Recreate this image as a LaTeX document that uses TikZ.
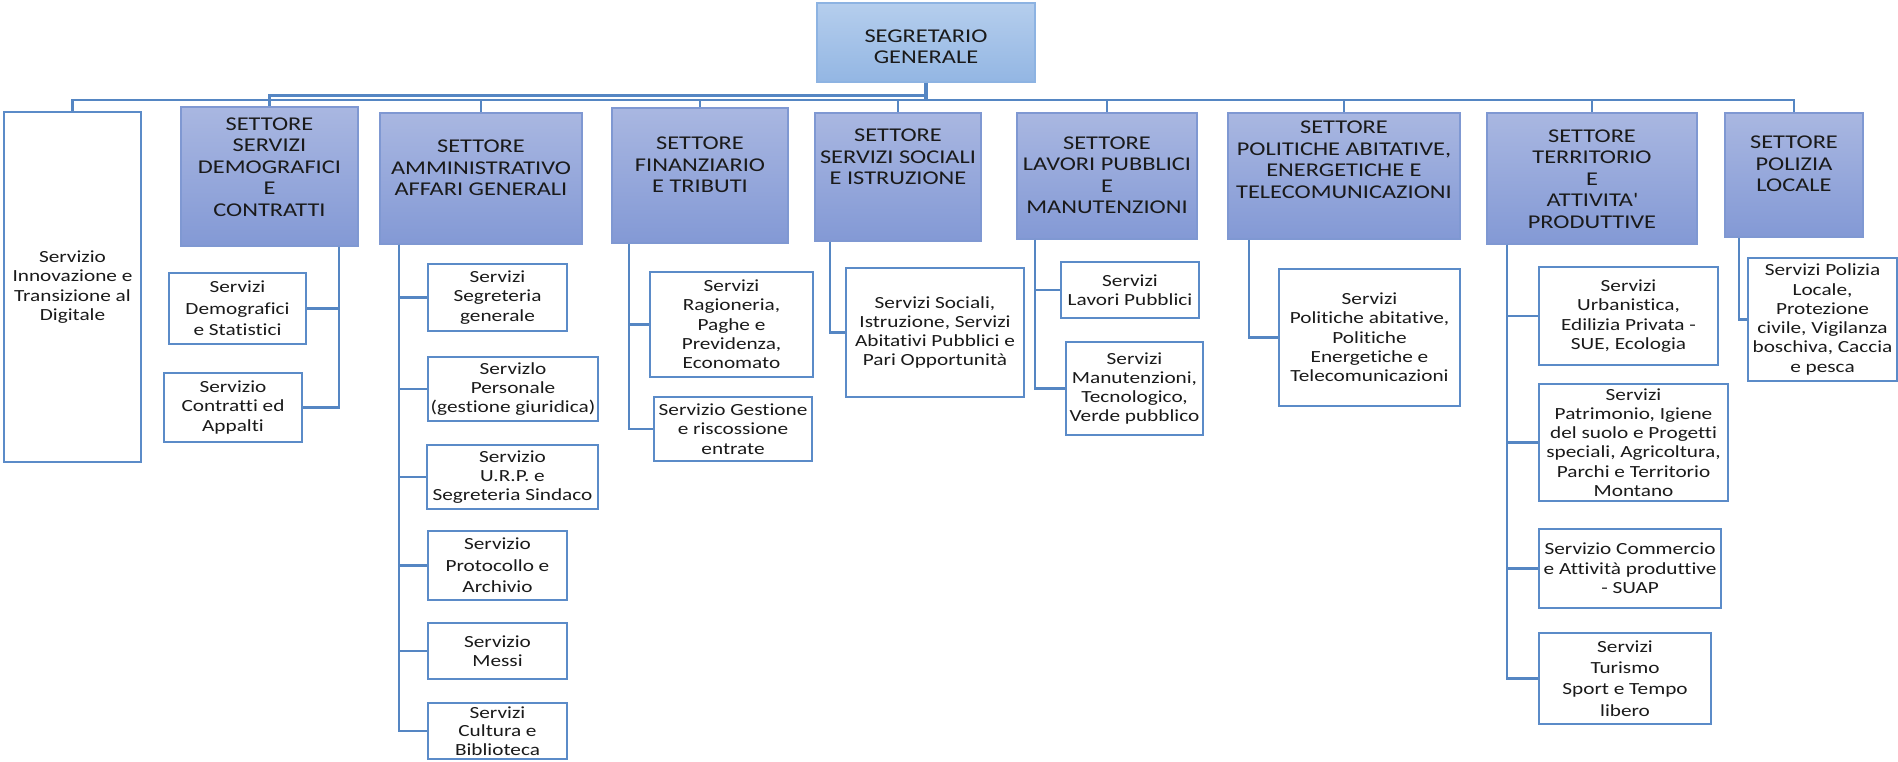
\documentclass[tikz,border=0pt]{standalone}
\usepackage{fontspec}
\setmainfont{Carlito}[FakeStretch=1.25,Ligatures={NoCommon}]
\usetikzlibrary{calc}
\definecolor{lnc}{HTML}{5586C3}
\definecolor{sbord}{HTML}{5B8BC8}
\definecolor{sectop}{HTML}{A9B7E1}
\definecolor{secbot}{HTML}{8399D5}
\definecolor{secbord}{HTML}{7F98D2}
\definecolor{segtop}{HTML}{B5CEED}
\definecolor{segbot}{HTML}{93B6E3}
\definecolor{segbord}{HTML}{8DB3E2}
\definecolor{txt}{HTML}{1A1A1A}
\begin{document}
\begin{tikzpicture}[x=1pt,y=-1pt,
  sector/.style={draw=secbord, line width=1.3pt, top color=sectop, bottom color=secbot, inner sep=0pt},
  segbox/.style={draw=segbord, line width=1.3pt, top color=segtop, bottom color=segbot, inner sep=0pt},
  sectxt/.style={align=center, inner sep=0pt, text=txt, font=\fontsize{19.5}{21.5}\selectfont},
  serv/.style={draw=sbord, line width=2.6pt, fill=white, align=center, inner sep=0pt, text=txt, font=\fontsize{17}{19.3}\selectfont},
  wide/.style={font=\fontsize{17}{21.3}\selectfont},
  tight/.style={font=\fontsize{17}{18.4}\selectfont},
  conn/.style={draw=lnc, line width=2.6pt},
  bus/.style={draw=lnc, line width=2.2pt},
  stem/.style={draw=lnc, line width=3.5pt}]
\useasboundingbox (0,0) rectangle (1898,762);

% top
\node[segbox, minimum width=218pt, minimum height=79pt] (segr) at (926,42.5) {};
\node[sectxt] (segrT) at (926,46.5) {SEGRETARIO\\GENERALE};

% sectors
\node[sector, minimum width=177pt, minimum height=139pt] (sdem) at (269.5,176.5) {};
\node[sectxt] (sdemT) at (269.5,167) {SETTORE\\SERVIZI\\DEMOGRAFICI\\E\\CONTRATTI};
\node[sector, minimum width=202pt, minimum height=131pt] (samm) at (481,178.5) {};
\node[sectxt] (sammT) at (481,168) {SETTORE\\AMMINISTRATIVO\\AFFARI GENERALI};
\node[sector, minimum width=176pt, minimum height=135pt] (sfin) at (700,175.5) {};
\node[sectxt] (sfinT) at (700,165) {SETTORE\\FINANZIARIO\\E TRIBUTI};
\node[sector, minimum width=166pt, minimum height=128pt] (ssoc) at (898,177) {};
\node[sectxt] (ssocT) at (898,157) {SETTORE\\SERVIZI SOCIALI\\E ISTRUZIONE};
\node[sector, minimum width=180pt, minimum height=126pt] (slav) at (1107,176) {};
\node[sectxt] (slavT) at (1107,175) {SETTORE\\LAVORI PUBBLICI\\E\\MANUTENZIONI};
\node[sector, minimum width=232pt, minimum height=126pt] (spol) at (1344,176) {};
\node[sectxt] (spolT) at (1344,159.5) {SETTORE\\POLITICHE ABITATIVE,\\ENERGETICHE E\\TELECOMUNICAZIONI};
\node[sector, minimum width=210pt, minimum height=131pt] (ster) at (1592,178.5) {};
\node[sectxt] (sterT) at (1592,179) {SETTORE\\TERRITORIO\\E\\ATTIVITA\textquotesingle\\PRODUTTIVE};
\node[sector, minimum width=138pt, minimum height=124pt] (spz) at (1794,175) {};
\node[sectxt] (spzT) at (1794,164) {SETTORE\\POLIZIA\\LOCALE};

% standalone service
\node[serv, minimum width=137pt, minimum height=350pt] (innov) at (72.5,287) {Servizio\\Innovazione e\\Transizione al\\Digitale};

% services
\node[serv, wide, minimum width=137pt, minimum height=71pt] (vdemo) at (237.5,308.5) {Servizi\\Demografici\\e Statistici};
\node[serv, minimum width=138pt, minimum height=69pt] (vcontr) at (233,407.5) {Servizio\\Contratti ed\\Appalti};

\node[serv, minimum width=139pt, minimum height=67pt] (vsegr) at (497.5,297.5) {Servizi\\Segreteria\\generale};
\node[serv, minimum width=170pt, minimum height=64pt] (vpers) at (513,389) {Servizlo\\Personale\\(gestione giuridica)};
\node[serv, minimum width=171pt, minimum height=64pt] (vurp) at (512.5,477) {Servizio\\U.R.P. e\\Segreteria Sindaco};
\node[serv, wide, minimum width=139pt, minimum height=69pt] (vprot) at (497.5,565.5) {Servizio\\Protocollo e\\Archivio};
\node[serv, minimum width=139pt, minimum height=56pt] (vmessi) at (497.5,651) {Servizio\\Messi};
\node[serv, tight, minimum width=139pt, minimum height=56pt] (vcult) at (497.5,731) {Servizi\\Cultura e\\Biblioteca};

\node[serv, minimum width=163pt, minimum height=105pt] (vrag) at (731.5,324.5) {Servizi\\Ragioneria,\\Paghe e\\Previdenza,\\Economato};
\node[serv, minimum width=158pt, minimum height=64pt] (vgest) at (733,429) {Servizio Gestione\\e riscossione\\entrate};

\node[serv, minimum width=178pt, minimum height=129pt] (vsoc) at (935,332.5) {Servizi Sociali,\\Istruzione, Servizi\\Abitativi Pubblici e\\Pari Opportunità};

\node[serv, minimum width=138pt, minimum height=56pt] (vlav) at (1130,290) {Servizi\\Lavori Pubblici};
\node[serv, minimum width=137pt, minimum height=93pt] (vman) at (1134.5,388.5) {Servizi\\Manutenzioni,\\Tecnologico,\\Verde pubblico};

\node[serv, minimum width=181pt, minimum height=137pt] (vpol) at (1369.5,337.5) {Servizi\\Politiche abitative,\\Politiche\\Energetiche e\\Telecomunicazioni};

\node[serv, minimum width=179pt, minimum height=98pt] (vurb) at (1628.5,316) {Servizi\\Urbanistica,\\Edilizia Privata -\\SUE, Ecologia};
\node[serv, minimum width=189pt, minimum height=117pt] (vpat) at (1633.5,442.5) {Servizi\\Patrimonio, Igiene\\del suolo e Progetti\\speciali, Agricoltura,\\Parchi e Territorio\\Montano};
\node[serv, minimum width=182pt, minimum height=79pt] (vcomm) at (1630,568.5) {Servizio Commercio\\e Attività produttive\\- SUAP};
\node[serv, wide, minimum width=172pt, minimum height=91pt] (vtur) at (1625,678.5) {Servizi\\Turismo\\Sport e Tempo\\libero};

\node[serv, minimum width=149pt, minimum height=123pt] (vpz) at (1822.5,319.5) {Servizi Polizia\\Locale,\\Protezione\\civile, Vigilanza\\boschiva, Caccia\\e pesca};

% bus coordinates
\coordinate (busL) at (926,100);
\coordinate (busU) at (926,95.5);
\draw[stem] (segr.south) -- ($(busL)+(0,1)$);
\draw[bus] (busU) -| (sdem.north);
\foreach \t in {innov,samm,sfin,ssoc,slav,spol,ster,spz}
  \draw[bus] (busL) -| (\t.north);

% vertical spines
\coordinate (xdem) at (339,0);
\coordinate (xamm) at (399,0);
\coordinate (xfin) at (629,0);
\coordinate (xsoc) at (830,0);
\coordinate (xlav) at (1035,0);
\coordinate (xpol) at (1249,0);
\coordinate (xter) at (1507,0);
\coordinate (xpz) at (1739,0);

\foreach \s in {vdemo,vcontr} \draw[conn] (xdem |- sdem.south) |- (\s.east);
\foreach \s in {vsegr,vpers,vurp,vprot,vmessi,vcult} \draw[conn] (xamm |- samm.south) |- (\s.west);
\foreach \s in {vrag,vgest} \draw[conn] (xfin |- sfin.south) |- (\s.west);
\draw[conn] (xsoc |- ssoc.south) |- (vsoc.west);
\foreach \s in {vlav,vman} \draw[conn] (xlav |- slav.south) |- (\s.west);
\draw[conn] (xpol |- spol.south) |- (vpol.west);
\foreach \s in {vurb,vpat,vcomm,vtur} \draw[conn] (xter |- ster.south) |- (\s.west);
\draw[conn] (xpz |- spz.south) |- (vpz.west);
\end{tikzpicture}
\end{document}
